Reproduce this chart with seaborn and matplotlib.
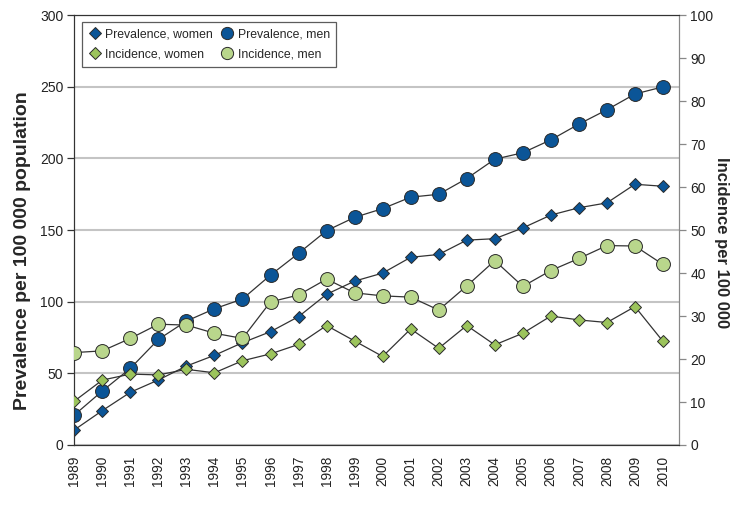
import matplotlib
matplotlib.use('Agg')
import matplotlib.pyplot as plt
from matplotlib.lines import Line2D
import seaborn as sns

## data
years = list(range(1989, 2011))
prev_women = [10.5, 24, 36.8, 45.4, 55.1, 62.6, 71.4, 79.1, 89.6, 105.2, 114.4,
              120, 131, 133, 143, 144, 151.5, 160.5, 165.6, 169, 182, 180.6]
prev_men = [20.9, 37.7, 53.5, 73.7, 86.5, 95.1, 101.9, 118.6, 133.8, 149.6, 158.9,
            165, 173, 175, 186, 199.5, 204, 213, 224, 234, 245, 250]
inc_women = [10.2, 15.1, 16.5, 16.3, 17.6, 16.8, 19.6, 21.2, 23.4, 27.8, 24.2,
             20.6, 27.0, 22.5, 27.8, 23.3, 26.0, 30.0, 29.1, 28.5, 32.2, 24.1]
inc_men = [21.5, 21.9, 24.8, 28.1, 27.9, 26.0, 24.8, 33.3, 34.9, 38.6, 35.4,
           34.7, 34.4, 31.4, 37.0, 42.9, 36.9, 40.6, 43.4, 46.4, 46.3, 42.0]

blue = '#0b5597'
green_d = '#9cc45c'
green_c = '#b9d68c'
edge = '#2a2a2a'

sns.set_style('white')
plt.rcParams['font.family'] = ['Liberation Sans', 'DejaVu Sans']

fig = plt.figure(figsize=(7.48, 5.07), dpi=100)
ax = fig.add_axes([0.0993, 0.1223, 0.8088, 0.8477])
ax2 = ax.twinx()

## prevalence on left axis
sns.lineplot(x=years, y=prev_women, ax=ax, color='#333333', lw=0.9,
             marker='D', markersize=6.3, markerfacecolor=blue, markeredgecolor=edge,
             markeredgewidth=0.7, zorder=3)
sns.lineplot(x=years, y=prev_men, ax=ax, color='#333333', lw=0.9,
             marker='o', markersize=10, markerfacecolor=blue, markeredgecolor=edge,
             markeredgewidth=0.7, zorder=3)

## incidence on right axis
sns.lineplot(x=years, y=inc_women, ax=ax2, color='#333333', lw=0.9,
             marker='D', markersize=6.3, markerfacecolor=green_d, markeredgecolor=edge,
             markeredgewidth=0.7, zorder=3)
sns.lineplot(x=years, y=inc_men, ax=ax2, color='#333333', lw=0.9,
             marker='o', markersize=10, markerfacecolor=green_c, markeredgecolor=edge,
             markeredgewidth=0.7, zorder=3)

ax.set_xlim(1989, 2010.58)
ax.set_ylim(0, 300)
ax2.set_ylim(0, 100)
ax.set_yticks(range(0, 301, 50))
ax2.set_yticks(range(0, 101, 10))
ax.set_xticks(years)
ax.set_xticklabels([str(y) for y in years], rotation=90)

ax.yaxis.grid(True, color='#c4c4c4', lw=1.5)
ax.set_axisbelow(True)

for a in (ax, ax2):
    a.tick_params(direction='out', length=5, width=0.9, colors='#333333',
                  labelsize=10, labelcolor='#222222', pad=3)
    a.spines['left'].set_color('#333333')
    a.spines['bottom'].set_color('#333333')
    a.spines['top'].set_color('#333333')
    a.spines['right'].set_color('#888888')
ax.tick_params(axis='x', labelsize=9.8)
ax2.tick_params(axis='y', colors='#888888', labelcolor='#222222')

ax.set_ylabel('Prevalence per 100 000 population', fontsize=14, fontweight='bold')
ax.yaxis.set_label_coords(-0.072, 0.453)
ax2.set_ylabel('Incidence per 100 000', fontsize=12, fontweight='bold',
               rotation=270, va='center')
ax2.yaxis.set_label_coords(1.07, 0.47)
ax.set_xlabel('')

## legend, markers only
handles = [
    Line2D([], [], ls='none', marker='D', markersize=6.6, markerfacecolor=blue,
           markeredgecolor=edge, markeredgewidth=0.7),
    Line2D([], [], ls='none', marker='D', markersize=6.6, markerfacecolor=green_d,
           markeredgecolor=edge, markeredgewidth=0.7),
    Line2D([], [], ls='none', marker='o', markersize=8.8, markerfacecolor=blue,
           markeredgecolor=edge, markeredgewidth=0.7),
    Line2D([], [], ls='none', marker='o', markersize=8.8, markerfacecolor=green_c,
           markeredgecolor=edge, markeredgewidth=0.7),
]
labels = ['Prevalence, women', 'Incidence, women', 'Prevalence, men', 'Incidence, men']
leg = ax2.legend(handles, labels, ncol=2, loc='upper left',
                 bbox_to_anchor=(0.013, 0.984), borderaxespad=0, fontsize=8.8,
                 frameon=True, fancybox=False, handletextpad=0.3,
                 columnspacing=0.6, handlelength=1.1, borderpad=0.5,
                 labelspacing=0.7)
leg.get_frame().set_edgecolor('#333333')
leg.get_frame().set_linewidth(0.9)

fig.savefig('out.png', dpi=100)
